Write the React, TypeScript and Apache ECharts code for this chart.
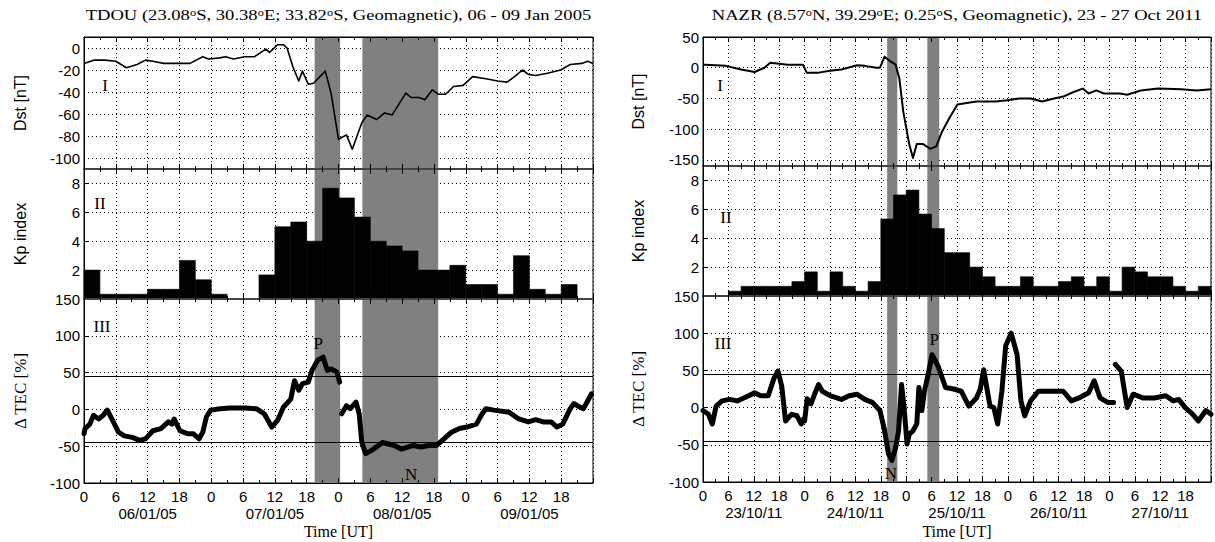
import { useEffect, useRef } from 'react';
import * as echarts from 'echarts';

const SERIF = "'Liberation Serif', 'Times New Roman', serif";
const SANS = "'Liberation Sans', Arial, sans-serif";

// ---------------- DATA: TDOU, 06 - 09 Jan 2005 ----------------
const tdouTitle = 'TDOU (23.08{s|o}S, 30.38{s|o}E; 33.82{s|o}S, Geomagnetic), 06 - 09 Jan 2005';
const tdouDays = ['06/01/05', '07/01/05', '08/01/05', '09/01/05'];
const tdouDstTicks = [0, -20, -40, -60, -80, -100];
const tdouDstHours = [0, 2, 4, 6, 8, 10, 11.6, 13, 15, 18, 20, 22.4, 23.5, 25.6, 26.7, 28.2, 30.3, 32.1, 34.3, 35, 36.5, 37.6, 38.3, 39.4, 40.5, 41.2, 42.3, 43.3, 45.5, 46.6, 48, 49.5, 50.6, 52.4, 53.4, 55.2, 56.7, 58.1, 60.7, 61.7, 63.2, 64.3, 65.7, 66.8, 68.2, 69.7, 71.5, 73.3, 75.8, 78, 79.8, 81.2, 82.7, 83.8, 85.2, 87.4, 89.9, 91.7, 93.9, 95, 96];
const tdouDstValues = [-14, -11, -11, -12, -18, -15, -11, -12, -14, -14, -14, -8, -10, -9, -8, -10, -8, -8, -1, -4, 3, 3, 0, -17, -30, -21, -33, -32, -21, -41, -83, -79, -92, -68, -61, -65, -59, -61, -41, -45, -45, -47, -38, -42, -42, -35, -34, -26, -28, -30, -31, -26, -20, -24, -25, -23, -20, -15, -14, -12, -14];
// Kp in 3-hour blocks starting at 0 UT, null = no data
const tdouKp = [2, 0.33, 0.33, 0.33, 0.67, 0.67, 2.67, 1.33, 0.33, null, null, 1.67, 5, 5.33, 4, 7.67, 7, 5.67, 4, 3.67, 3.33, 2, 2, 2.33, 1, 1, 0.33, 3, 0.67, 0.33, 1, null];
const tdouTecHours = [0, 0.2, 1.1, 1.8, 2.8, 3.6, 4.4, 5.4, 6.5, 7.6, 9.1, 10.5, 11.6, 13, 14.5, 15.9, 16.6, 17, 18.1, 19.5, 20.6, 21.7, 22.4, 23.1, 23.9, 25.7, 27.5, 30.3, 32.5, 34, 35.4, 36.5, 37.6, 39, 39.7, 40.5, 41.2, 42.3, 43, 44.1, 45.1, 45.9, 46.6, 47.7, 48.2, 48.4, 48.6, 49.5, 50.2, 51.3, 51.9, 52.4, 53.1, 54.2, 56.3, 58.5, 59.9, 62.1, 63.5, 65, 66.5, 67.9, 69.3, 70.8, 72.2, 74, 75.1, 75.8, 77.3, 80.2, 82, 83.8, 85.2, 86.6, 88.1, 89.2, 90.3, 91.7, 92.4, 93.5, 94.2, 95.7];
const tdouTecValues = [-33, -26, -20, -8, -13, -8, -1, -15, -31, -36, -38, -42, -40, -29, -26, -17, -20, -13, -29, -33, -33, -40, -31, -10, -1, 1, 2, 2, 1, -6, -24, -15, 3, 14, 39, 26, 35, 37, 53, 67, 71, 53, 55, 51, 37, null, -6, 5, 1, 10, -6, -45, -60, -56, -45, -49, -54, -49, -51, -49, -49, -40, -31, -26, -24, -20, -6, 1, -1, -4, -13, -17, -14, -17, -17, -24, -20, 1, 8, 3, 1, 21];
const tdouBands = [[43.5, 48.3], [52.5, 66.8]];
const tdouMarks = [{ name: 'P', coord: [44.2, 90] }, { name: 'N', coord: [61.7, -88] }];

// ---------------- DATA: NAZR, 23 - 27 Oct 2011 ----------------
const nazrTitle = 'NAZR (8.57{s|o}N, 39.29{s|o}E; 0.25{s|o}S, Geomagnetic), 23 - 27 Oct 2011';
const nazrDays = ['23/10/11', '24/10/11', '25/10/11', '26/10/11', '27/10/11'];
const nazrDstTicks = [50, 0, -50, -100, -150];
const nazrDstHours = [0, 0.4, 5.4, 9, 12.2, 14.5, 15.9, 20, 23.6, 24.5, 27.3, 30, 32.7, 36.4, 38.2, 40.9, 41.8, 42.9, 44.1, 45.5, 46.4, 47.3, 48.7, 49.6, 50.5, 51.9, 53.7, 55.1, 56.4, 58.2, 60.1, 61.9, 64.6, 69.2, 71.9, 74.7, 77.4, 80.1, 82.9, 85.1, 87.4, 89.7, 91.1, 92.9, 94.7, 98.4, 100.2, 103.4, 107.5, 113, 116.6, 120];
const nazrDstValues = [5, 5, 3, -3, -7, 0, 8, 5, 5, -8, -8, -5, -3, 4, 3, 0, 0, 18, 11, 5, -18, -71, -124, -147, -124, -124, -132, -128, -105, -82, -60, -58, -55, -55, -53, -50, -50, -55, -50, -47, -40, -34, -42, -37, -42, -42, -44, -37, -34, -35, -37, -35];
const nazrKp = [0, 0, 0.33, 0.67, 0.67, 0.67, 0.67, 1, 1.67, 0.33, 1.67, 0.67, 0.33, 1, 5.33, 7, 7.33, 5.67, 4.67, 3, 3, 2, 1.33, 0.67, 0.67, 1.33, 0.67, 0.67, 1, 1.33, 0.67, 1.33, 0.33, 2, 1.67, 1.33, 1.33, 0.67, 0.33, 0.67];
const nazrTecHours = [0, 1.3, 2.2, 3.1, 4.5, 6.3, 8.1, 10.8, 12.2, 13.6, 15.4, 16.8, 17.7, 18.6, 19.5, 20.9, 22.2, 23.2, 23.8, 23.9, 24.0, 24.6, 25.5, 26.5, 27.3, 28.2, 30, 32.7, 34.5, 36.4, 38.2, 40, 41.8, 42.9, 43.8, 44.6, 45.5, 46.2, 46.9, 47.5, 48.2, 48.7, 49.6, 50.5, 51, 51.7, 52.3, 53.2, 54.1, 55.5, 57.3, 59.2, 61, 62.8, 64.6, 65.5, 66.3, 66.9, 67.8, 68.7, 69.6, 70.6, 71.5, 72.8, 74.2, 75.1, 76, 77.4, 79.2, 82.9, 85.1, 87, 88.8, 91.1, 92.4, 93.8, 95.6, 97, 97.2, 97.4, 98.8, 100.2, 101.6, 103.9, 106.6, 109.3, 111.1, 112.4, 113.9, 115.7, 117, 118.8, 120];
const nazrTecValues = [-4, -9, -22, 2, 9, 11, 9, 16, 20, 16, 16, 40, 49, 29, -18, -9, -11, -22, -15, null, -18, 12, 5, 20, 31, 22, 16, 11, 16, 18, 11, 7, -4, -31, -62, -71, -54, -31, 31, 0, -49, -36, -31, -22, 27, -4, 22, 45, 71, 56, 27, 25, 22, 2, 13, 25, 51, 31, 2, 0, -22, 22, 83, 100, 71, 9, -11, 9, 22, 22, 22, 9, 13, 20, 36, 13, 7, 7, null, 58, 49, 0, 18, 13, 13, 16, 9, 11, 0, -9, -18, -4, -9];
const nazrBands = [[43.5, 45.9], [53.0, 55.8]];
const nazrMarks = [{ name: 'P', coord: [54.6, 92] }, { name: 'N', coord: [44.4, -88] }];

const TEC_LIMITS = [45, -45];
const KP_STEP = 3;

const FIGS = [
  { title: tdouTitle, maxHour: 96, days: tdouDays, dstH: tdouDstHours, dstV: tdouDstValues, dstMin: -110, dstMax: 10, dstTicks: tdouDstTicks, kp: tdouKp, tecH: tdouTecHours, tecV: tdouTecValues, bands: tdouBands, marks: tdouMarks, dstWidth: 1.6 },
  { title: nazrTitle, maxHour: 120, days: nazrDays, dstH: nazrDstHours, dstV: nazrDstValues, dstMin: -160, dstMax: 50, dstTicks: nazrDstTicks, kp: nazrKp, tecH: nazrTecHours, tecV: nazrTecValues, bands: nazrBands, marks: nazrMarks, dstWidth: 2 },
];

// ---------------- LAYOUT ----------------
const LAYOUTS = [
  { left: 84, width: 509, tops: [37, 169, 299], heights: [132, 130, 184], nameX: 20, roman: [[105, 85], [100, 203], [102, 326]] },
  { left: 703, width: 508, tops: [37, 166, 296], heights: [129, 130, 186], nameX: 638, roman: [[720, 85], [726, 217], [723, 343]] },
];
const ROMAN = ['I', 'II', 'III'];

const dotted = { color: '#000', width: 1, type: [1, 3] as any };
const zip = (a: number[], b: (number | null)[]) => a.map((h, i) => [h, b[i] === null ? null : b[i]]);

function txt(extra: any) {
  return { fill: '#000', fontWeight: 'normal', stroke: 'none', lineWidth: 0, align: 'center', verticalAlign: 'middle', ...extra };
}

function buildOption() {
  const grid: any[] = [];
  const xAxis: any[] = [];
  const yAxis: any[] = [];
  const series: any[] = [];
  const graphic: any[] = [];

  FIGS.forEach((fig, f) => {
    const L = LAYOUTS[f];
    for (let p = 0; p < 3; p++) {
      const g = f * 3 + p;
      grid.push({ left: L.left, top: L.tops[p], width: L.width, height: L.heights[p], show: true, borderColor: '#000', borderWidth: 1, backgroundColor: 'transparent' });
      const common = { type: 'value', gridIndex: g, min: 0, max: fig.maxHour, interval: 6 };
      xAxis.push({ ...common, position: 'bottom', z: 0, axisLine: { show: false, onZero: false }, axisTick: { show: false }, axisLabel: { show: false }, splitLine: { show: true, lineStyle: dotted } });
      const tick = (sep: boolean) => ({
        axisLine: { show: true, onZero: false, lineStyle: sep ? { color: '#444', width: 2 } : { color: '#000', width: 1 } },
        axisTick: { show: true, inside: true, length: 5, lineStyle: { color: '#000', width: 1 } },
        minorTick: { show: true, splitNumber: 2, length: 3, lineStyle: { color: '#000', width: 1 } },
        splitLine: { show: false },
        minorSplitLine: { show: false },
      });
      const days = fig.days;
      const maxH = fig.maxHour;
      xAxis.push({
        ...common, ...tick(p < 2), position: 'bottom', z: 5,
        axisLabel: p === 2 ? {
          show: true, margin: 5, fontSize: 15, fontFamily: SANS, color: '#000', lineHeight: 17,
          formatter: (v: number) => {
            if (v >= maxH) return '';
            const h = Math.round(v) % 24;
            if (h === 12) return `12\n{d|${days[Math.floor(v / 24)]}}`;
            return String(h);
          },
          rich: { d: { fontSize: 15, fontFamily: SANS, color: '#000', lineHeight: 17 } },
        } : { show: false },
      });
      xAxis.push({ ...common, ...tick(p > 0), position: 'top', z: 5, axisLabel: { show: false } });

      const labelBase = { fontSize: 15, fontFamily: SANS, color: '#000', margin: 4 };
      if (p === 0) {
        const ticks = fig.dstTicks;
        yAxis.push({
          type: 'value', gridIndex: g, min: fig.dstMin, max: fig.dstMax, interval: 10,
          axisLine: { show: true, onZero: false, lineStyle: { color: '#000' } }, axisTick: { show: false }, splitLine: { show: false },
          axisLabel: { ...labelBase, formatter: (v: number) => (ticks.includes(Math.round(v)) ? String(Math.round(v)) : '') },
        });
      } else if (p === 1) {
        yAxis.push({
          type: 'value', gridIndex: g, min: 0, max: 9, interval: 2,
          axisLine: { show: true, onZero: false, lineStyle: { color: '#000' } }, axisTick: { show: true, inside: true, length: 4, lineStyle: { color: '#000' } },
          splitLine: { show: true, lineStyle: dotted },
          axisLabel: { ...labelBase, formatter: (v: number) => (v > 0 && v < 9 ? String(v) : '') },
        });
      } else {
        yAxis.push({
          type: 'value', gridIndex: g, min: -100, max: 150, interval: 50,
          axisLine: { show: true, onZero: false, lineStyle: { color: '#000' } }, axisTick: { show: true, inside: true, length: 4, lineStyle: { color: '#000' } },
          splitLine: { show: true, lineStyle: dotted },
          axisLabel: { ...labelBase },
        });
      }

      // gray storm-phase bands
      series.push({
        type: 'custom', xAxisIndex: g * 3, yAxisIndex: g, z: 1, silent: true, clip: true,
        data: fig.bands, encode: { x: [0, 1] },
        renderItem: (params: any, api: any) => {
          const cs = params.coordSys;
          const a = api.coord([api.value(0), 0]);
          const b = api.coord([api.value(1), 0]);
          return { type: 'rect', shape: { x: a[0], y: cs.y, width: b[0] - a[0], height: cs.height }, style: { fill: '#808080' } };
        },
      });

      if (p === 0) {
        series.push({
          type: 'line', xAxisIndex: g * 3, yAxisIndex: g, z: 2, showSymbol: false, symbol: 'none',
          data: zip(fig.dstH, fig.dstV), lineStyle: { color: '#000', width: fig.dstWidth, join: 'round' },
          markLine: { silent: true, z: 0, symbol: ['none', 'none'], label: { show: false }, lineStyle: dotted, data: fig.dstTicks.map((v) => ({ yAxis: v })) },
        });
      } else if (p === 1) {
        series.push({
          type: 'custom', xAxisIndex: g * 3, yAxisIndex: g, z: 2, silent: true,
          data: fig.kp.map((v, i) => [i * KP_STEP, v]).filter((d) => d[1] !== null),
          encode: { x: 0, y: 1 },
          renderItem: (params: any, api: any) => {
            const s = api.value(0);
            const v = api.value(1);
            const a = api.coord([s, v]);
            const b = api.coord([s + KP_STEP, 0]);
            return { type: 'rect', shape: { x: a[0], y: a[1], width: b[0] - a[0], height: b[1] - a[1] }, style: { fill: '#000', stroke: '#000', lineWidth: 0.6 } };
          },
        });
      } else {
        series.push({
          type: 'line', xAxisIndex: g * 3, yAxisIndex: g, z: 2, showSymbol: false, symbol: 'none', connectNulls: false,
          data: zip(fig.tecH, fig.tecV), lineStyle: { color: '#000', width: 5, join: 'round', cap: 'round' },
          markLine: { silent: true, z: 3, symbol: ['none', 'none'], label: { show: false }, lineStyle: { color: '#000', width: 1, type: 'solid' }, data: TEC_LIMITS.map((v) => ({ yAxis: v })) },
          markPoint: {
            silent: true, z: 4, symbol: 'circle', symbolSize: 1, itemStyle: { color: 'rgba(0,0,0,0)' },
            label: { show: true, position: 'inside', formatter: '{b}', color: '#000', fontFamily: SERIF, fontSize: 17 },
            data: fig.marks,
          },
        });
      }

      graphic.push({ type: 'text', x: L.roman[p][0], y: L.roman[p][1], z: 10, style: txt({ text: ROMAN[p], fontFamily: SERIF, fontSize: 17 }) });
    }

    const cx = L.left + L.width / 2;
    graphic.push({
      type: 'text', x: cx, y: 15, scaleX: 1.24, z: 10,
      style: txt({ text: fig.title, fontFamily: SERIF, fontSize: 15, rich: { s: { fontFamily: SERIF, fontSize: 10, fill: '#000', verticalAlign: 'top' } } }),
    });
    const names = [
      { t: 'Dst [nT]', font: SANS, size: 16 },
      { t: 'Kp index', font: SANS, size: 16 },
      { t: '\u0394 TEC [%]', font: SERIF, size: 17 },
    ];
    names.forEach((n, p) => {
      graphic.push({
        type: 'text', x: L.nameX, y: L.tops[p] + L.heights[p] / 2, rotation: Math.PI / 2, z: 10,
        style: txt({ text: n.t, fontFamily: n.font, fontSize: n.size }),
      });
    });
    graphic.push({ type: 'text', x: cx, y: 531, z: 10, style: txt({ text: 'Time [UT]', fontFamily: SERIF, fontSize: 16 }) });
  });

  return { animation: false, backgroundColor: '#fff', grid, xAxis, yAxis, series, graphic };
}

export default function App() {
  const ref = useRef<HTMLDivElement>(null);
  useEffect(() => {
    const chart = echarts.init(ref.current as HTMLDivElement, null, { renderer: 'svg' });
    chart.setOption(buildOption() as any);
    return () => chart.dispose();
  }, []);
  return <div ref={ref} style={{ position: 'fixed', left: 0, top: 0, width: 1215, height: 542, background: '#fff' }} />;
}
